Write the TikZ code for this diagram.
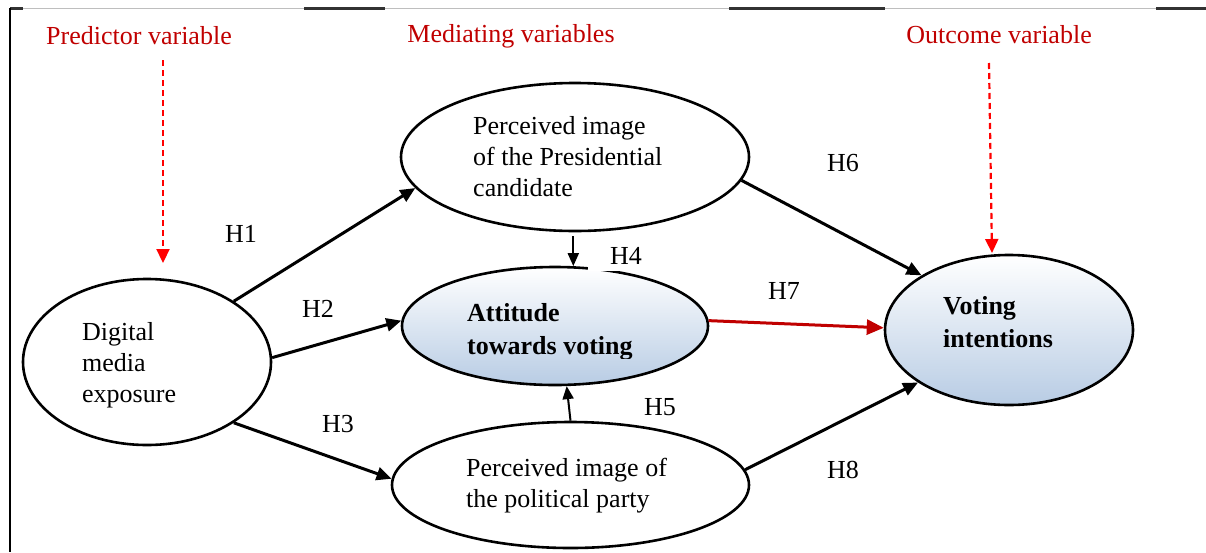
\documentclass[tikz,border=0pt]{standalone}
\usepackage{fontspec}
\setmainfont{Liberation Serif}
\usetikzlibrary{shapes.geometric,arrows.meta}
\definecolor{shadeblue}{RGB}{184,204,228}
\definecolor{darkred}{RGB}{192,0,0}
\definecolor{framegray}{RGB}{190,190,190}
\definecolor{framedark}{RGB}{50,50,50}
\tikzset{
  var/.style={ellipse, draw=black, line width=2.6pt, inner sep=0pt},
  shaded/.style={var, top color=white, bottom color=shadeblue},
  txt/.style={anchor=west, align=left, inner sep=0pt, font=\fontsize{26}{31}\selectfont},
  btxt/.style={txt, font=\fontsize{26}{33}\selectfont\bfseries},
  hlabel/.style={inner sep=0pt, font=\fontsize{26}{31}\selectfont},
  head/.style={font=\fontsize{26}{31}\selectfont, text=darkred, inner sep=0pt},
  path/.style={draw=black, line width=3pt, -{Triangle[length=15pt,width=13pt]}},
  thinpath/.style={draw=black, line width=2pt, -{Triangle[length=13pt,width=11pt]}},
  redpath/.style={draw=darkred, line width=3pt, -{Triangle[length=17pt,width=15pt]}},
  pointer/.style={draw=red, line width=2.2pt, dash pattern=on 6pt off 4pt, -{Triangle[length=14pt,width=13pt]}}
}
\begin{document}
\begin{tikzpicture}[x=1pt,y=-1pt]
\useasboundingbox (0,0) rectangle (1206,552);

% frame pieces along the top and left
\draw[framegray, line width=1pt] (10,8) -- (1206,8);
\draw[framedark, line width=2.5pt] (304,8.5) -- (385,8.5);
\draw[framedark, line width=2.5pt] (729,8.5) -- (885,8.5);
\draw[framedark, line width=2.5pt] (1156,8.5) -- (1206,8.5);
\draw[framedark, line width=2.5pt] (10,8.5) -- (23,8.5);
\draw[black, line width=1.5pt] (10,8) -- (10,552);

% column headings
\node[head] (hpred) at (139,36) {Predictor variable};
\node[head] (hmed) at (511,36) {Mediating variables};
\node[head] (hout) at (999,35) {Outcome variable};

% variables
\node[var, minimum width=248pt, minimum height=166pt] (dig) at (147,362) {};
\node[var, minimum width=348pt, minimum height=148pt] (pres) at (575,157) {};
\node[shaded, minimum width=306pt, minimum height=118pt] (att) at (555,326) {};
\node[shaded, minimum width=248pt, minimum height=150pt] (vi) at (1009,330) {};
\node[var, minimum width=357pt, minimum height=126pt] (party) at (570.5,485) {};

\node[txt] (digt) at (82,365) {Digital\\media\\exposure};
\node[txt] (prest) at (473,157) {Perceived image\\of the Presidential\\candidate};
\begin{scope}
  \clip (400,260) rectangle (710,358);
  \node[btxt] (attt) at (467,332) {Attitude\\towards voting};
\end{scope}
\node[btxt] (vit) at (943,322) {Voting\\intentions};
\node[txt] (partyt) at (466,486) {Perceived image of\\the political party};

% heading pointers
\coordinate (p1s) at (163,60);
\coordinate (p1e) at (163,263);
\coordinate (p2s) at (989,63);
\coordinate (p2e) at (992,253);
\draw[pointer] (p1s) -- (p1e);
\draw[pointer] (p2s) -- (p2e);

% hypothesised paths
\draw[path] (dig.35) -- (pres.191);
\draw[path] (dig.2) -- (att.178);
\draw[path] (dig.-35) -- (party.178);
\draw[thinpath, shorten <=4pt] (att.73 |- pres.south) -- (att.73);
\draw[thinpath] (party.north) -- (att.-79);
\draw[path] (pres.-8) -- (vi.148);
\draw[redpath] (att.2) -- (vi.179);
\draw[path] (party.5) -- (vi.210);

% hypothesis labels
\node[hlabel] (h1) at (241,234) {H1};
\node[hlabel] (h2) at (318,309) {H2};
\node[hlabel] (h3) at (338,424) {H3};
\node[hlabel, fill=white, anchor=south west, minimum height=30pt] (h4) at (588,271) {\hspace{22pt}H4\hspace{2pt}};
\node[hlabel] (h5) at (660,407) {H5};
\node[hlabel] (h6) at (843,163) {H6};
\node[hlabel] (h7) at (784,291) {H7};
\node[hlabel] (h8) at (843,470) {H8};
\end{tikzpicture}
\end{document}
